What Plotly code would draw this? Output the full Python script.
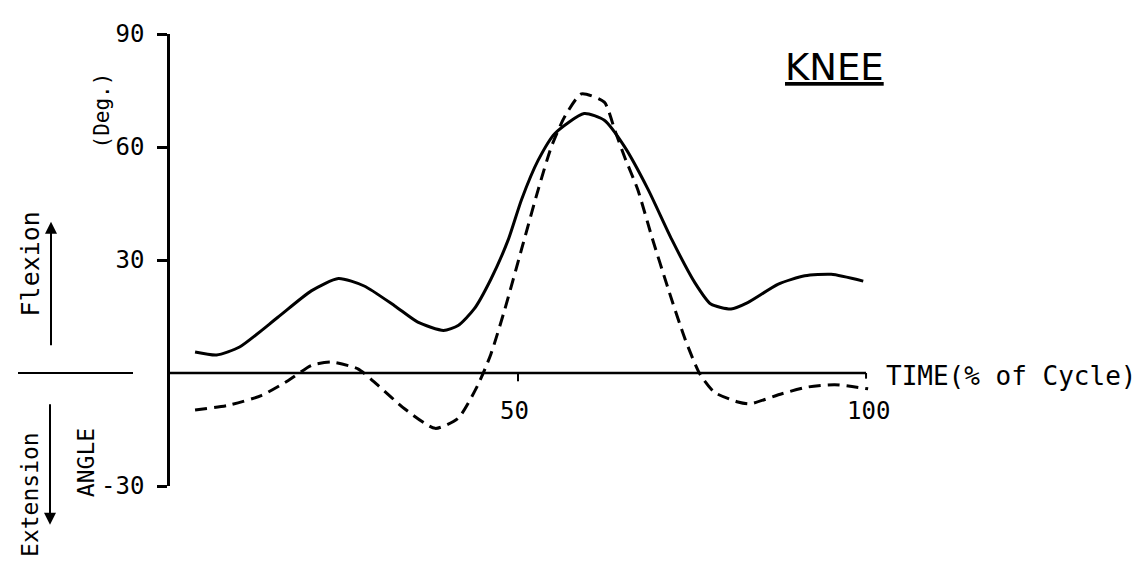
import plotly.graph_objects as go

# ---- data ----
time_solid = [3.6, 6.7, 10.0, 15.5, 20.3, 24.2, 27.9, 32.3, 35.6, 39.3, 41.4, 43.7, 46.1, 48.6,
              50.5, 52.9, 55.3, 59.5, 62.4, 65.3, 68.7, 72.1, 75.4, 77.7, 80.6, 83.0, 87.4,
              91.2, 95.0, 99.6]
angle_solid = [5.6, 4.8, 6.9, 14.8, 21.8, 25.1, 23.1, 17.8, 13.5, 11.3, 12.6, 17.0, 24.9, 35.4,
               46.0, 56.5, 63.6, 68.9, 67.1, 60.1, 48.7, 35.4, 24.0, 18.3, 17.0, 18.7, 23.6,
               25.8, 26.2, 24.4]

time_dash = [3.6, 8.3, 13.1, 17.0, 20.3, 23.2, 27.0, 29.9, 33.7, 38.1, 41.4, 44.2, 46.1, 48.1,
             50.5, 52.9, 54.8, 56.7, 59.1, 62.4, 63.9, 65.3, 67.2, 69.2, 71.6, 74.0, 76.1,
             78.2, 81.6, 83.3, 87.9, 91.7, 95.5, 100.3]
angle_dash = [-9.8, -8.6, -6.0, -2.0, 2.0, 2.9, 1.1, -3.3, -9.5, -14.7, -12.0, -3.3, 5.0, 16.9,
              32.8, 48.7, 60.1, 68.0, 74.1, 71.9, 64.5, 57.4, 48.7, 36.3, 22.2, 9.0, -0.2,
              -5.1, -7.7, -8.2, -5.5, -3.7, -3.1, -4.2]

y_ticks = [-30, 30, 60, 90]
x_ticks = [50, 100]

# ---- layout helpers (pixel -> paper) ----
X0, X1 = 0, 101
L, T, B = 162, 23, 478
R = 865
W, H = 1141, 564
def px(x):
    return (x - L) / (R - L)
def py(y):
    return (B - y) / (B - T)

MONO = "DejaVu Sans Mono"
SANS = "DejaVu Sans"

fig = go.Figure()
fig.add_trace(go.Scatter(x=time_solid, y=angle_solid, mode="lines",
                         line=dict(color="black", width=3, shape="spline", smoothing=0.6),
                         showlegend=False, hoverinfo="skip"))
fig.add_trace(go.Scatter(x=time_dash, y=angle_dash, mode="lines",
                         line=dict(color="black", width=3, dash="12px,7px", shape="spline", smoothing=0.6),
                         showlegend=False, hoverinfo="skip"))

fig.update_layout(
    width=W, height=H,
    margin=dict(l=L, r=W - R, t=T, b=H - B),
    plot_bgcolor="white", paper_bgcolor="white",
    xaxis=dict(range=[X0, X1], showgrid=False, zeroline=False, showline=False,
               showticklabels=False, ticks=""),
    yaxis=dict(range=[-30, 90], showgrid=False, zeroline=False, showline=True,
               linecolor="black", linewidth=2.5, tickmode="array", tickvals=y_ticks,
               ticktext=[str(v) for v in y_ticks],
               ticks="outside", ticklen=10, tickwidth=2.5, tickcolor="black",
               ticklabelstandoff=8,
               tickfont=dict(family=MONO, size=24, color="black")),
)

# zero line (time axis) and left stub
fig.add_shape(type="line", xref="x", yref="y", x0=X0, x1=x_ticks[-1], y0=0, y1=0,
              line=dict(color="black", width=2.5))
fig.add_shape(type="line", xref="paper", yref="y", x0=px(10), x1=px(125), y0=0, y1=0,
              line=dict(color="black", width=2))
# small ticks on the time axis (50 points down, 100 points up)
fig.add_shape(type="line", xref="x", yref="y", x0=x_ticks[0], x1=x_ticks[0], y0=0, y1=-2.2,
              line=dict(color="black", width=2))
fig.add_shape(type="line", xref="x", yref="y", x0=x_ticks[1], x1=x_ticks[1], y0=0, y1=-1.5,
              line=dict(color="black", width=2))
for v in x_ticks:
    fig.add_annotation(xref="x", yref="paper", x=v + 0.4 * (v == 100) - 0.5 * (v == 50),
                       y=py(403), text=str(v), showarrow=False, xanchor="center",
                       yanchor="middle", font=dict(family=MONO, size=24, color="black"))

# arrows
fig.add_annotation(xref="paper", yref="paper", x=px(43), y=py(212), ax=0, ay=125,
                   text="", showarrow=True, arrowhead=2, arrowsize=1.2, arrowwidth=2,
                   arrowcolor="black")
fig.add_annotation(xref="paper", yref="paper", x=px(42), y=py(517), ax=0, ay=-122,
                   text="", showarrow=True, arrowhead=2, arrowsize=1.2, arrowwidth=2,
                   arrowcolor="black")

def txt(x, y, s, size, family=MONO, angle=0, xanchor="center"):
    fig.add_annotation(xref="paper", yref="paper", x=px(x), y=py(y), text=s,
                       showarrow=False, textangle=angle, xanchor=xanchor, yanchor="middle",
                       font=dict(family=family, size=size, color="black"))

txt(826, 57, "<u>KNEE</u>", 37, family=SANS)
txt(876, 367, "TIME(% of Cycle)", 26, xanchor="left")
txt(22, 255, "Flexion", 25, angle=-90)
txt(22, 487, "Extension", 23, angle=-90)
txt(78, 455, "ANGLE", 23, angle=-90)
txt(94, 100, "(Deg.)", 21, angle=-90)

fig.write_html("out.html")
